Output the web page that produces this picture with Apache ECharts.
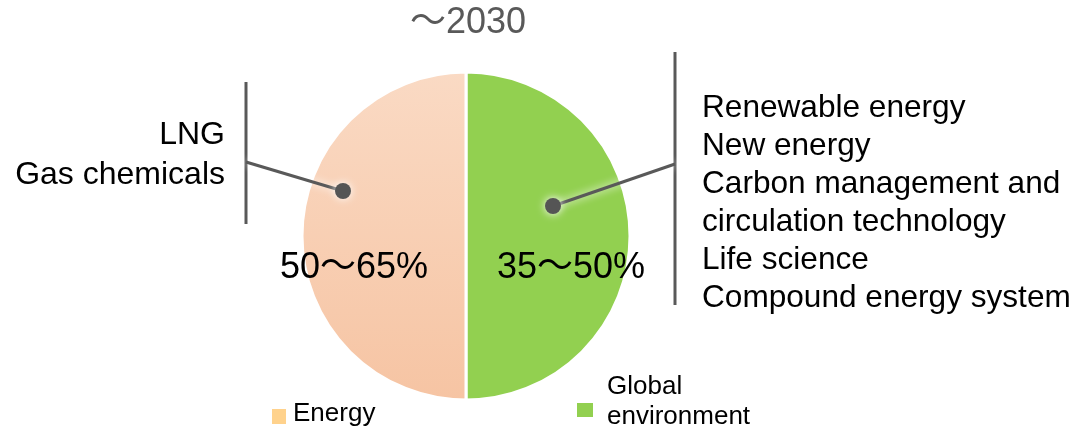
<!DOCTYPE html>
<html>
<head>
<meta charset="utf-8">
<script src="https://cdn.jsdelivr.net/npm/echarts@6/dist/echarts.min.js"></script>
<style>
  html, body { margin: 0; padding: 0; background: #ffffff; }
  #chart { width: 1079px; height: 432px; }
</style>
</head>
<body>
<div id="chart"></div>
<script>
// portfolio split toward 2030
const periodLabel = '～2030'
const categories = ['Global environment', 'Energy']
const shares = [50, 50]
const rangeLabels = ['35～50%', '50～65%']
const energyFields = ['LNG', 'Gas chemicals']
const environmentFields = [
  'Renewable energy',
  'New energy',
  'Carbon management and',
  'circulation technology',
  'Life science',
  'Compound energy system'
]

const font = "'Liberation Sans', Arial, 'Noto Sans CJK JP', sans-serif"
const textColor = '#000000'
const greyColor = '#595959'
const greenColor = '#92d050'
const energySwatch = '#ffd28c'

const chart = echarts.init(document.getElementById('chart'))

const peachGradient = new echarts.graphic.LinearGradient(0, 0, 0, 1, [
  { offset: 0, color: '#fadac4' },
  { offset: 1, color: '#f6c4a3' }
])

const sliceStyles = [
  { color: greenColor, offset: [20, 32] },
  { color: peachGradient, offset: [-27, 32] }
]

const pieData = categories.map((name, i) => ({
  name: name,
  value: shares[i],
  itemStyle: { color: sliceStyles[i].color },
  label: { offset: sliceStyles[i].offset }
}))

const glow = { shadowBlur: 8, shadowColor: 'rgba(255,255,255,1)' }
const lineStyle = Object.assign({ stroke: greyColor, lineWidth: 3 }, glow)

const graphics = [
  // title
  {
    type: 'text', x: 468, y: 23, z: 100,
    style: { text: periodLabel, fill: greyColor, font: '36px ' + font, align: 'center', verticalAlign: 'middle' }
  },
  // left call-out
  { type: 'line', z: 100, shape: { x1: 246, y1: 82, x2: 246, y2: 224 }, style: { stroke: greyColor, lineWidth: 3 } },
  { type: 'line', z: 100, shape: { x1: 246, y1: 162, x2: 343, y2: 191 }, style: lineStyle },
  { type: 'circle', z: 101, shape: { cx: 343, cy: 191, r: 8 }, style: Object.assign({ fill: '#555555' }, glow) },
  {
    type: 'text', x: 225, y: 155, z: 100,
    style: {
      text: energyFields.join('\n'), fill: textColor, font: '32px ' + font,
      align: 'right', verticalAlign: 'middle', lineHeight: 40
    }
  },
  // right call-out
  { type: 'line', z: 100, shape: { x1: 675, y1: 52, x2: 675, y2: 305 }, style: { stroke: greyColor, lineWidth: 3 } },
  { type: 'line', z: 100, shape: { x1: 675, y1: 164, x2: 553, y2: 206 }, style: lineStyle },
  { type: 'circle', z: 101, shape: { cx: 553, cy: 206, r: 8 }, style: Object.assign({ fill: '#555555' }, glow) },
  {
    type: 'text', x: 702, y: 203.5, z: 100,
    style: {
      text: environmentFields.join('\n'), fill: textColor, font: '31.6px ' + font,
      align: 'left', verticalAlign: 'middle', lineHeight: 38
    }
  },
  // legend
  { type: 'rect', z: 100, shape: { x: 272, y: 409, width: 14, height: 15 }, style: { fill: energySwatch } },
  {
    type: 'text', x: 293, y: 414, z: 100,
    style: { text: categories[1], fill: textColor, font: '26px ' + font, verticalAlign: 'middle' }
  },
  { type: 'rect', z: 100, shape: { x: 577, y: 403, width: 16, height: 14 }, style: { fill: greenColor } },
  {
    type: 'text', x: 607, y: 402, z: 100,
    style: {
      text: categories[0].replace(' ', '\n'), fill: textColor, font: '26px ' + font,
      verticalAlign: 'middle', lineHeight: 30
    }
  }
]

const option = {
  animation: false,
  backgroundColor: '#ffffff',
  series: [
    {
      type: 'pie',
      center: [466, 236],
      radius: [0, 164],
      startAngle: 90,
      clockwise: true,
      silent: true,
      data: pieData,
      itemStyle: { borderColor: '#ffffff', borderWidth: 3 },
      label: {
        show: true,
        position: 'inside',
        rotate: 0,
        color: textColor,
        fontFamily: font,
        fontSize: 36,
        formatter: (p) => rangeLabels[p.dataIndex]
      },
      labelLine: { show: false },
      emphasis: { disabled: true }
    }
  ],
  graphic: graphics
}

chart.setOption(option)
</script>
</body>
</html>
